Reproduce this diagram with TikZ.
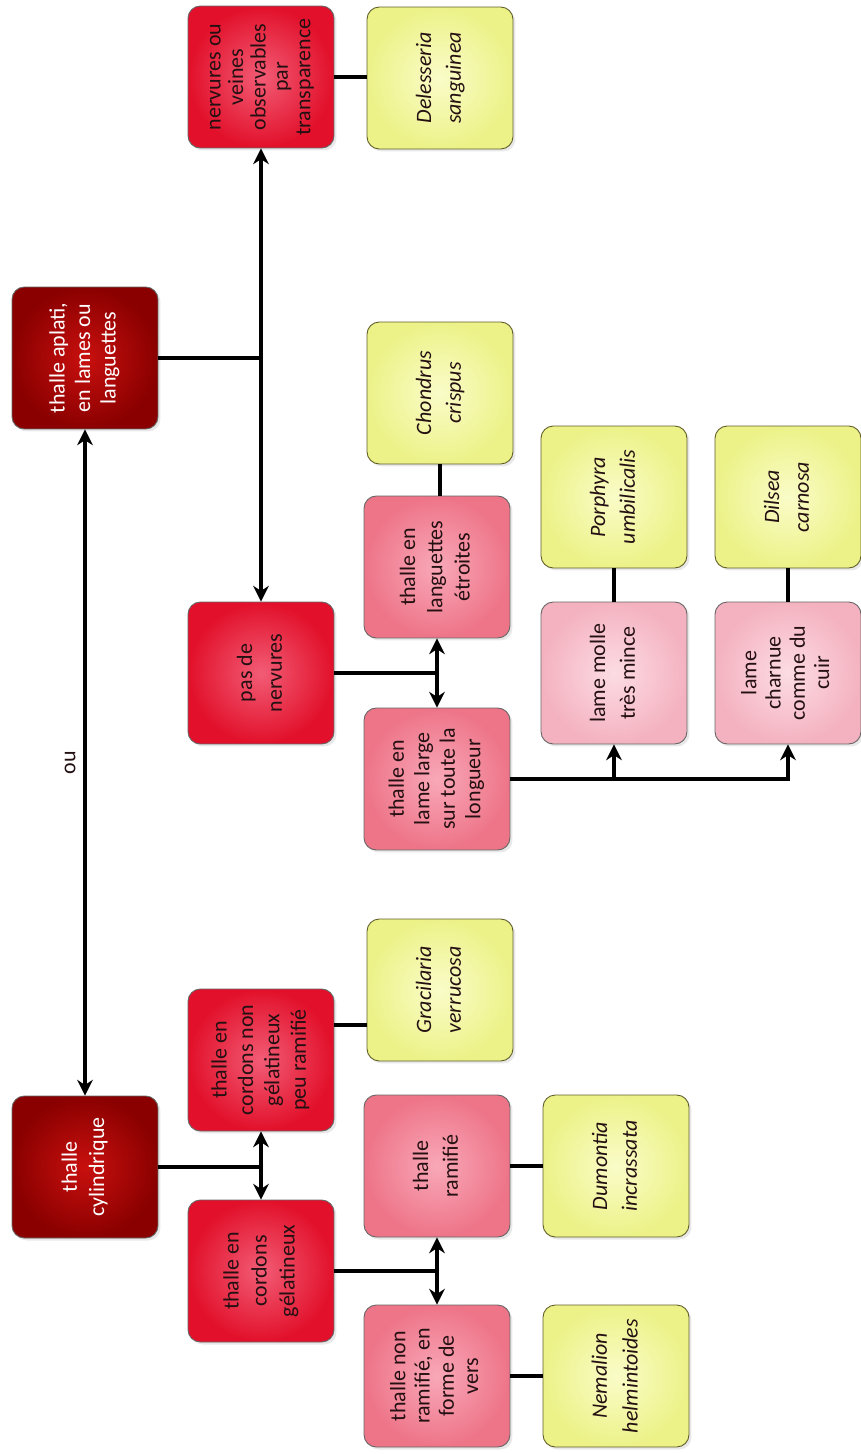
\documentclass[tikz,border=0pt]{standalone}
\usepackage{fontspec}
\setmainfont{Carlito}
\usepackage{graphicx}
\usetikzlibrary{arrows.meta,positioning,shadows}
\definecolor{wine}{HTML}{8A0000}
\definecolor{winelight}{HTML}{C8100E}
\definecolor{scarlet}{HTML}{E2102A}
\definecolor{scarletlight}{HTML}{F25C76}
\definecolor{rose}{HTML}{EE7488}
\definecolor{roselight}{HTML}{F8A8B8}
\definecolor{blush}{HTML}{F4B2C0}
\definecolor{blushlight}{HTML}{FCDCE4}
\definecolor{lemon}{HTML}{ECF288}
\definecolor{lemonlight}{HTML}{FAFCC8}
\definecolor{ink}{HTML}{241012}
% vertical label, read from bottom to top
\newcommand{\vlab}[2][15pt]{\rotatebox{90}{\fontsize{12.5}{#1}\selectfont
  \begin{tabular}{@{}c@{}}#2\end{tabular}}}

\begin{document}
\begin{tikzpicture}[x=0.02cm,y=-0.02cm,>={Stealth[length=9pt,width=9pt]},
    box/.style={rounded corners=7pt,minimum width=2.92cm,minimum height=2.84cm,
      draw=black!60,line width=.5pt,inner sep=0pt,text=ink,
      drop shadow={opacity=.18,shadow xshift=.05cm,shadow yshift=-.05cm}},
    topbox/.style={box,inner color=winelight,outer color=wine,text=white},
    keybox/.style={box,inner color=scarletlight,outer color=scarlet},
    subbox/.style={box,inner color=roselight,outer color=rose},
    leafbox/.style={box,inner color=blushlight,outer color=blush},
    algabox/.style={box,inner color=lemonlight,outer color=lemon,draw=olive!60!black,
      font=\itshape},
    link/.style={line width=2.2pt,black}]
  \useasboundingbox (0,0) rectangle (861,1454);

  % flat thallus branch
  \node[topbox] (aplati) at (85,358) {\vlab[14.5pt]{thalle aplati,\\en lames ou\\languettes}};
  \node[keybox] (nerv) at (261,77) {\vlab[12.8pt]{nervures ou\\veines\\observables\\par\\transparence}};
  \node[algabox] (deless) at (440,78) {\vlab[17pt]{Delesseria\\sanguinea}};
  \node[keybox] (pasnerv) at (261,673) {\vlab[17pt]{pas de\\nervures}};
  \node[subbox] (langu) at (437,567) {\vlab[15.5pt]{thalle en\\languettes\\étroites}};
  \node[algabox] (chondrus) at (440,393) {\vlab[17pt]{Chondrus\\crispus}};
  \node[subbox] (lamelarge) at (437,779) {\vlab[14.5pt]{thalle en\\lame large\\sur toute la\\longueur}};
  \node[leafbox] (molle) at (614,673) {\vlab[17pt]{lame molle\\très mince}};
  \node[algabox] (porphyra) at (614,497) {\vlab[17pt]{Porphyra\\umbilicalis}};
  \node[leafbox] (charnue) at (788,673) {\vlab[13.8pt]{lame\\charnue\\comme du\\cuir}};
  \node[algabox] (dilsea) at (788,497) {\vlab[17pt]{Dilsea\\carnosa}};

  % cylindrical thallus branch
  \node[topbox] (cylind) at (85,1167) {\vlab[15.5pt]{thalle\\cylindrique}};
  \node[keybox] (cordnon) at (261,1060) {\vlab[15pt]{thalle en\\cordons non\\gélatineux\\peu ramifié}};
  \node[algabox] (gracil) at (440,990) {\vlab[17pt]{Gracilaria\\verrucosa}};
  \node[keybox] (cordgel) at (261,1271) {\vlab[16pt]{thalle en\\cordons\\gélatineux}};
  \node[subbox] (ramifie) at (437,1166) {\vlab[17pt]{thalle\\ramifié}};
  \node[algabox] (dumont) at (616,1166) {\vlab[17pt]{Dumontia\\incrassata}};
  \node[subbox] (nonram) at (437,1376) {\vlab[13.8pt]{thalle non\\ramifié, en\\forme de\\vers}};
  \node[algabox] (nemal) at (616,1376) {\vlab[17.5pt]{Nemalion\\helmintoides}};

  % choices
  \draw[link,<->] (aplati.south) -- (cylind.north)
    node[midway,left=1pt,text=ink,font=\fontsize{12.5}{15}\selectfont] (ou) {\rotatebox{90}{ou}};
  \draw[link] (aplati.east) -- (aplati.east -| nerv.south);
  \draw[link,<->] (nerv.south) -- (pasnerv.north);
  \draw[link] (pasnerv.east) -- (pasnerv.east -| langu.south);
  \draw[link,<->] (langu.south) -- (lamelarge.north);
  \draw[link,->] (lamelarge.east) -| (molle.south);
  \draw[link,->] (lamelarge.east) -| (charnue.south);
  \draw[link] (cylind.east) -- (cylind.east -| cordnon.south);
  \draw[link,<->] (cordnon.south) -- (cordgel.north);
  \draw[link] (cordgel.east) -- (cordgel.east -| ramifie.south);
  \draw[link,<->] (ramifie.south) -- (nonram.north);

  % species
  \draw[link] (nerv.east) -- (deless.west |- nerv.east);
  \draw[link] (chondrus.south) -- (chondrus.south |- langu.north);
  \draw[link] (porphyra.south) -- (molle.north);
  \draw[link] (dilsea.south) -- (charnue.north);
  \path (cordnon.east) -- (gracil.west) coordinate[midway] (gm);
  \draw[link] (cordnon.east |- gm) -- (gracil.west |- gm);
  \draw[link] (ramifie.east) -- (dumont.west);
  \draw[link] (nonram.east) -- (nemal.west);
\end{tikzpicture}
\end{document}
